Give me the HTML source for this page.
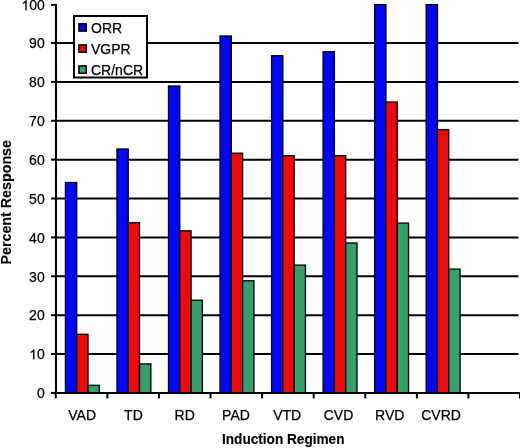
<!DOCTYPE html>
<html><head><meta charset="utf-8"><title>Chart</title>
<style>
html,body{margin:0;padding:0;background:#fff;}
body{width:520px;height:448px;overflow:hidden;position:relative;}
svg{position:absolute;left:0;top:0;display:block;will-change:transform;}
text{font-family:"Liberation Sans",sans-serif;fill:#000;stroke:#000;stroke-width:0.25px;}
</style></head><body>
<svg width="520" height="448" viewBox="0 0 520 448">
<rect x="0" y="0" width="520" height="448" fill="#fff"/>
<line x1="56" y1="354.02" x2="518.4" y2="354.02" stroke="#000" stroke-width="2"/>
<line x1="56" y1="315.14" x2="518.4" y2="315.14" stroke="#000" stroke-width="2"/>
<line x1="56" y1="276.27" x2="518.4" y2="276.27" stroke="#000" stroke-width="2"/>
<line x1="56" y1="237.39" x2="518.4" y2="237.39" stroke="#000" stroke-width="2"/>
<line x1="56" y1="198.52" x2="518.4" y2="198.52" stroke="#000" stroke-width="2"/>
<line x1="56" y1="159.65" x2="518.4" y2="159.65" stroke="#000" stroke-width="2"/>
<line x1="56" y1="120.77" x2="518.4" y2="120.77" stroke="#000" stroke-width="2"/>
<line x1="56" y1="81.90" x2="518.4" y2="81.90" stroke="#000" stroke-width="2"/>
<line x1="56" y1="43.02" x2="518.4" y2="43.02" stroke="#000" stroke-width="2"/>
<rect x="65.42" y="182.50" width="11.30" height="210.39" fill="#0006fb" stroke="#000" stroke-width="1.3"/>
<rect x="76.72" y="334.30" width="11.30" height="58.59" fill="#ec0a0a" stroke="#000" stroke-width="1.3"/>
<rect x="88.02" y="385.30" width="11.30" height="7.59" fill="#36a06a" stroke="#000" stroke-width="1.3"/>
<rect x="116.95" y="149.00" width="11.30" height="243.89" fill="#0006fb" stroke="#000" stroke-width="1.3"/>
<rect x="128.25" y="222.70" width="11.30" height="170.19" fill="#ec0a0a" stroke="#000" stroke-width="1.3"/>
<rect x="139.56" y="363.90" width="11.30" height="28.99" fill="#36a06a" stroke="#000" stroke-width="1.3"/>
<rect x="168.49" y="86.00" width="11.30" height="306.89" fill="#0006fb" stroke="#000" stroke-width="1.3"/>
<rect x="179.79" y="230.80" width="11.30" height="162.09" fill="#ec0a0a" stroke="#000" stroke-width="1.3"/>
<rect x="191.09" y="300.20" width="11.30" height="92.69" fill="#36a06a" stroke="#000" stroke-width="1.3"/>
<rect x="220.02" y="36.00" width="11.30" height="356.89" fill="#0006fb" stroke="#000" stroke-width="1.3"/>
<rect x="231.32" y="153.20" width="11.30" height="239.69" fill="#ec0a0a" stroke="#000" stroke-width="1.3"/>
<rect x="242.62" y="280.80" width="11.30" height="112.09" fill="#36a06a" stroke="#000" stroke-width="1.3"/>
<rect x="271.56" y="55.70" width="11.30" height="337.19" fill="#0006fb" stroke="#000" stroke-width="1.3"/>
<rect x="282.86" y="155.70" width="11.30" height="237.19" fill="#ec0a0a" stroke="#000" stroke-width="1.3"/>
<rect x="294.16" y="265.10" width="11.30" height="127.79" fill="#36a06a" stroke="#000" stroke-width="1.3"/>
<rect x="323.09" y="51.70" width="11.30" height="341.19" fill="#0006fb" stroke="#000" stroke-width="1.3"/>
<rect x="334.39" y="155.70" width="11.30" height="237.19" fill="#ec0a0a" stroke="#000" stroke-width="1.3"/>
<rect x="345.69" y="243.00" width="11.30" height="149.89" fill="#36a06a" stroke="#000" stroke-width="1.3"/>
<rect x="374.63" y="4.60" width="11.30" height="388.29" fill="#0006fb" stroke="#000" stroke-width="1.3"/>
<rect x="385.93" y="102.00" width="11.30" height="290.89" fill="#ec0a0a" stroke="#000" stroke-width="1.3"/>
<rect x="397.23" y="223.10" width="11.30" height="169.79" fill="#36a06a" stroke="#000" stroke-width="1.3"/>
<rect x="426.17" y="4.60" width="11.30" height="388.29" fill="#0006fb" stroke="#000" stroke-width="1.3"/>
<rect x="437.47" y="129.60" width="11.30" height="263.29" fill="#ec0a0a" stroke="#000" stroke-width="1.3"/>
<rect x="448.77" y="269.10" width="11.30" height="123.79" fill="#36a06a" stroke="#000" stroke-width="1.3"/>
<line x1="56" y1="4" x2="56" y2="393.89" stroke="#000" stroke-width="2"/>
<line x1="55" y1="392.89" x2="520" y2="392.89" stroke="#000" stroke-width="2"/>
<line x1="51" y1="392.89" x2="56" y2="392.89" stroke="#000" stroke-width="2"/>
<line x1="51" y1="354.02" x2="56" y2="354.02" stroke="#000" stroke-width="2"/>
<line x1="51" y1="315.14" x2="56" y2="315.14" stroke="#000" stroke-width="2"/>
<line x1="51" y1="276.27" x2="56" y2="276.27" stroke="#000" stroke-width="2"/>
<line x1="51" y1="237.39" x2="56" y2="237.39" stroke="#000" stroke-width="2"/>
<line x1="51" y1="198.52" x2="56" y2="198.52" stroke="#000" stroke-width="2"/>
<line x1="51" y1="159.65" x2="56" y2="159.65" stroke="#000" stroke-width="2"/>
<line x1="51" y1="120.77" x2="56" y2="120.77" stroke="#000" stroke-width="2"/>
<line x1="51" y1="81.90" x2="56" y2="81.90" stroke="#000" stroke-width="2"/>
<line x1="51" y1="43.02" x2="56" y2="43.02" stroke="#000" stroke-width="2"/>
<line x1="51" y1="4.90" x2="56" y2="4.90" stroke="#000" stroke-width="2"/>
<line x1="55.74" y1="392.89" x2="55.74" y2="398.4" stroke="#000" stroke-width="2"/>
<line x1="107.33" y1="392.89" x2="107.33" y2="398.4" stroke="#000" stroke-width="2"/>
<line x1="158.92" y1="392.89" x2="158.92" y2="398.4" stroke="#000" stroke-width="2"/>
<line x1="210.51" y1="392.89" x2="210.51" y2="398.4" stroke="#000" stroke-width="2"/>
<line x1="262.10" y1="392.89" x2="262.10" y2="398.4" stroke="#000" stroke-width="2"/>
<line x1="313.69" y1="392.89" x2="313.69" y2="398.4" stroke="#000" stroke-width="2"/>
<line x1="365.27" y1="392.89" x2="365.27" y2="398.4" stroke="#000" stroke-width="2"/>
<line x1="416.86" y1="392.89" x2="416.86" y2="398.4" stroke="#000" stroke-width="2"/>
<line x1="468.45" y1="392.89" x2="468.45" y2="398.4" stroke="#000" stroke-width="2"/>
<line x1="520.04" y1="392.89" x2="520.04" y2="398.4" stroke="#000" stroke-width="2"/>
<text x="44.7" y="398.19" font-size="14" text-anchor="end">0</text>
<path transform="translate(29.128,359.316) scale(0.0068359,-0.0068359)" d="M583 0H763V1472H647Q600 1377 487 1276Q374 1175 223 1104V930Q307 961 412.5 1023Q518 1085 583 1147Z" fill="#000" stroke="#000" stroke-width="36.6"/>
<text x="36.914" y="359.32" font-size="14">0</text>
<text x="44.7" y="320.44" font-size="14" text-anchor="end">20</text>
<text x="44.7" y="281.57" font-size="14" text-anchor="end">30</text>
<text x="44.7" y="242.69" font-size="14" text-anchor="end">40</text>
<text x="44.7" y="203.82" font-size="14" text-anchor="end">50</text>
<text x="44.7" y="164.95" font-size="14" text-anchor="end">60</text>
<text x="44.7" y="126.07" font-size="14" text-anchor="end">70</text>
<text x="44.7" y="87.20" font-size="14" text-anchor="end">80</text>
<text x="44.7" y="48.32" font-size="14" text-anchor="end">90</text>
<path transform="translate(21.342,10.200) scale(0.0068359,-0.0068359)" d="M583 0H763V1472H647Q600 1377 487 1276Q374 1175 223 1104V930Q307 961 412.5 1023Q518 1085 583 1147Z" fill="#000" stroke="#000" stroke-width="36.6"/>
<text x="29.128" y="10.20" font-size="14">00</text>
<text x="82.17" y="419.8" font-size="14" text-anchor="middle">VAD</text>
<text x="133.44" y="419.8" font-size="14" text-anchor="middle">TD</text>
<text x="184.71" y="419.8" font-size="14" text-anchor="middle">RD</text>
<text x="235.97" y="419.8" font-size="14" text-anchor="middle">PAD</text>
<text x="287.24" y="419.8" font-size="14" text-anchor="middle">VTD</text>
<text x="338.50" y="419.8" font-size="14" text-anchor="middle">CVD</text>
<text x="389.77" y="419.8" font-size="14" text-anchor="middle">RVD</text>
<text x="441.04" y="419.8" font-size="14" text-anchor="middle">CVRD</text>
<text x="222" y="444" font-size="14" font-weight="bold" style="stroke-width:0.12px" textLength="122.5" lengthAdjust="spacingAndGlyphs">Induction Regimen</text>
<text transform="translate(10.7,264.5) rotate(-90)" x="0" y="0" font-size="14" font-weight="bold" style="stroke-width:0.12px" textLength="124.5" lengthAdjust="spacingAndGlyphs">Percent Response</text>
<rect x="74" y="16" width="73" height="61.5" fill="#fff" stroke="#000" stroke-width="2"/>
<rect x="78.95" y="23.80" width="7.3" height="7.3" fill="#0006fb" stroke="#000" stroke-width="1.5"/>
<text x="91" y="32.80" font-size="14">ORR</text>
<rect x="78.95" y="44.90" width="7.3" height="7.3" fill="#ec0a0a" stroke="#000" stroke-width="1.5"/>
<text x="91" y="53.70" font-size="14">VGPR</text>
<rect x="78.95" y="65.95" width="7.3" height="7.3" fill="#36a06a" stroke="#000" stroke-width="1.5"/>
<text x="91" y="74.90" font-size="14">CR/nCR</text>
</svg>
</body></html>
